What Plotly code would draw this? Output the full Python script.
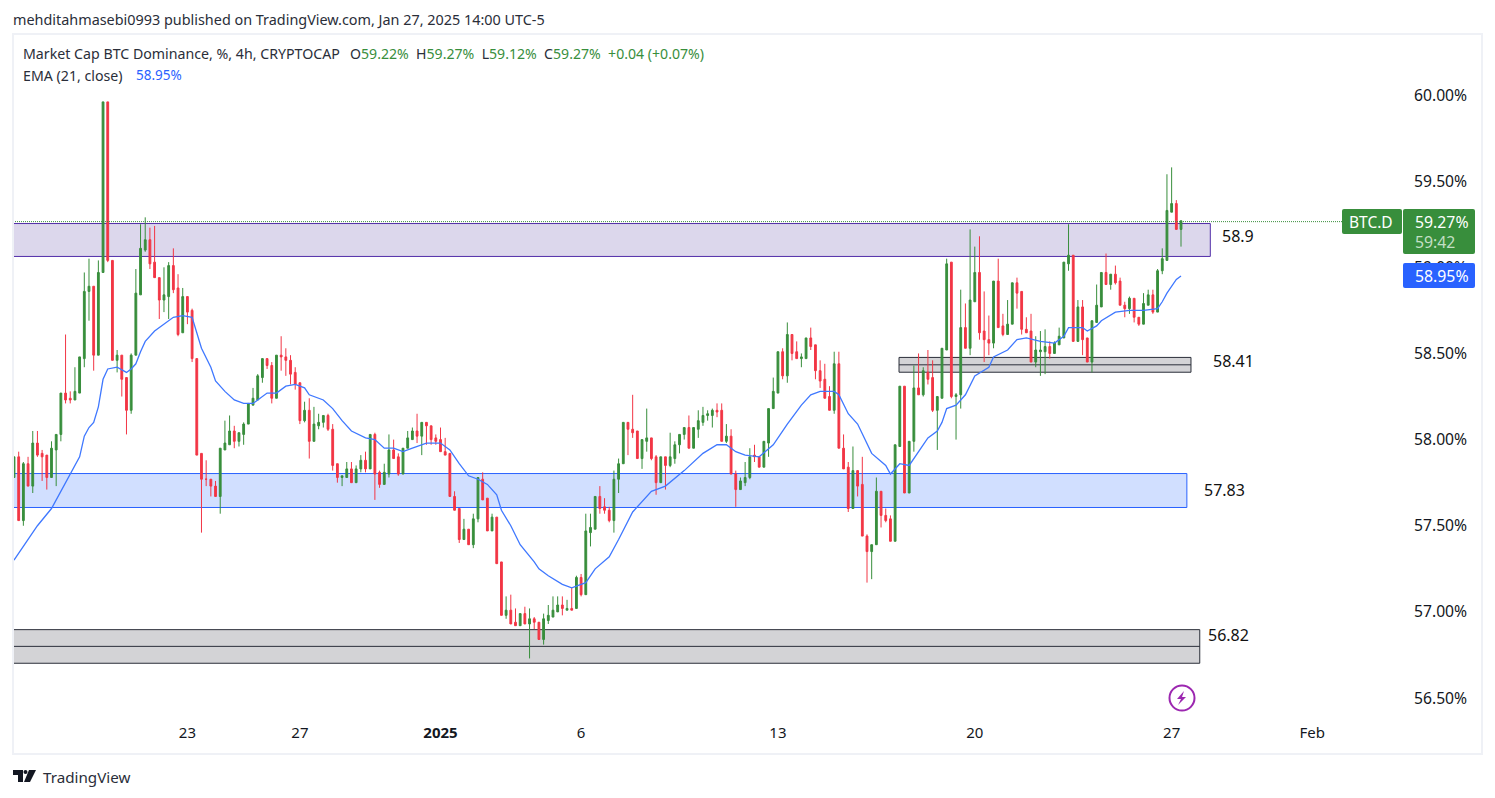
import pandas as pd
import plotly.graph_objects as go

W, H = 1495, 798
PL, PR, PT, PB = 13, 1412, 35, 718   # plot area in page pixels
BAR_PX = 4.687

opens = [57.78,57.90,57.53,57.86,57.73,57.98,57.92,57.91,57.78,57.94,58.03,58.27,58.24,58.23,58.27,58.47,58.86,58.89,58.49,58.97,59.96,59.04,58.46,58.49,58.36,58.17,58.49,58.84,59.10,59.16,59.03,58.94,58.81,58.83,59.01,58.88,58.62,58.83,58.75,58.47,
57.92,57.77,57.77,57.73,57.67,57.94,57.97,58.05,57.99,58.03,58.09,58.20,58.23,58.36,58.47,58.43,58.24,58.49,58.48,58.46,58.39,58.33,58.11,
58.17,57.99,58.08,58.10,58.14,58.06,57.86,57.78,57.78,57.83,57.75,57.83,57.88,57.83,58.03,57.81,57.74,57.80,57.94,57.90,57.80,57.95,58.00,58.05,58.02,58.10,58.08,58.01,58.00,57.93,57.92,57.67,57.60,57.42,57.48,57.39,57.54,57.77,57.66,57.47,57.55,57.29,56.98,57.01,56.94,56.92,56.99,56.93,56.96,56.94,56.84,56.95,56.97,57.00,57.04,57.01,57.02,57.02,57.20,57.10,57.46,57.48,
57.67,57.61,57.59,57.53,57.77,57.86,58.10,58.06,58.05,57.89,57.99,58.01,57.90,57.75,57.90,57.85,57.89,57.97,58.03,58.07,57.95,58.06,58.10,58.14,58.14,58.17,58.17,57.99,58.02,57.80,57.71,57.75,57.78,57.91,57.90,57.84,57.98,58.18,58.27,58.51,58.37,58.61,58.51,58.47,58.47,58.59,58.55,58.40,58.35,58.25,58.17,58.44,57.95,57.84,57.60,57.82,57.74,57.44,57.35,57.39,57.70,57.56,57.54,57.41,57.96,58.31,57.69,
57.99,58.30,58.26,58.39,58.36,58.17,58.24,58.52,59.03,58.25,58.26,58.65,58.53,58.80,58.97,58.63,58.58,58.56,58.92,58.66,58.61,58.67,58.91,58.86,58.64,58.63,58.45,58.51,58.51,58.54,58.50,58.55,58.59,59.02,59.07,58.57,58.77,58.59,58.45,58.68,58.77,58.97,58.90,58.96,58.92,58.78,58.76,58.82,58.71,58.67,58.78,58.84,58.74,58.98,59.04,59.32,59.37,59.22]
highs = [57.90,57.93,57.87,57.90,58.05,58.05,57.94,57.91,57.99,58.03,58.27,58.61,58.28,58.42,58.48,58.97,59.05,58.89,59.04,59.96,59.96,59.04,58.52,58.49,58.36,58.50,58.99,59.25,59.29,59.23,59.24,58.94,59.00,59.03,59.11,58.96,58.88,58.83,58.76,58.47,
57.92,57.88,57.77,57.76,57.95,58.11,58.14,58.08,58.04,58.10,58.21,58.30,58.38,58.47,58.47,58.45,58.49,58.60,58.53,58.49,58.42,58.33,58.22,
58.24,58.19,58.15,58.14,58.15,58.09,57.86,57.79,57.87,57.87,57.85,57.91,57.93,58.03,58.04,57.82,57.86,58.03,58.00,57.92,57.95,58.05,58.07,58.15,58.10,58.10,58.08,58.03,58.07,58.01,57.92,57.70,57.60,57.54,57.48,57.57,57.78,57.81,57.66,57.57,57.55,57.29,57.09,57.10,57.02,56.99,57.03,57.02,56.97,56.94,56.99,57.04,57.09,57.09,57.09,57.07,57.14,57.21,57.22,57.57,57.57,57.67,
57.73,57.66,57.61,57.82,57.89,58.10,58.10,58.26,58.05,58.00,58.18,58.01,57.91,57.90,57.90,58.04,57.99,58.03,58.07,58.14,58.07,58.17,58.19,58.17,58.18,58.21,58.21,58.09,58.06,57.82,57.78,57.87,57.95,57.97,57.90,57.99,58.18,58.36,58.51,58.53,58.68,58.61,58.57,58.50,58.59,58.65,58.55,58.46,58.44,58.31,58.51,58.51,58.03,57.87,57.96,57.82,57.90,57.45,57.39,57.78,57.70,57.60,57.56,57.97,58.31,58.31,57.99,
58.43,58.50,58.42,58.52,58.46,58.25,58.53,59.05,59.03,58.27,58.87,58.79,59.22,59.12,59.18,58.86,58.72,58.92,59.05,58.73,58.81,58.91,58.94,58.86,58.71,58.73,58.60,58.63,58.64,58.57,58.57,58.65,59.03,59.25,59.07,58.81,58.81,58.59,58.69,58.90,58.97,59.08,58.96,59.01,58.94,58.80,58.83,58.82,58.71,58.85,58.87,58.87,58.99,59.11,59.54,59.58,59.39,59.27]
lows = [57.78,57.53,57.50,57.73,57.69,57.90,57.76,57.71,57.78,57.73,57.99,58.21,58.21,58.23,58.27,58.42,58.69,58.40,58.49,58.97,59.03,58.46,58.39,58.25,58.03,58.15,58.49,58.84,59.09,58.99,58.94,58.70,58.74,58.70,58.85,58.60,58.62,58.67,58.45,57.91,
57.46,57.73,57.67,57.67,57.57,57.94,57.97,57.95,57.96,57.97,58.09,58.20,58.23,58.33,58.41,58.21,58.24,58.40,58.37,58.32,58.29,58.09,58.10,
57.89,57.99,58.06,58.07,58.05,57.82,57.75,57.73,57.78,57.75,57.75,57.81,57.81,57.83,57.65,57.72,57.74,57.78,57.89,57.79,57.80,57.95,58.00,57.98,57.91,57.97,57.97,57.97,57.93,57.91,57.67,57.59,57.40,57.42,57.39,57.37,57.52,57.65,57.47,57.47,57.28,56.98,56.96,56.93,56.92,56.92,56.93,56.73,56.90,56.84,56.81,56.93,56.97,57.00,56.98,57.01,57.01,57.02,57.09,57.10,57.38,57.48,
57.57,57.57,57.52,57.46,57.69,57.86,57.91,58.01,57.89,57.83,57.93,57.88,57.68,57.75,57.71,57.84,57.86,57.92,58.00,57.95,57.95,58.01,58.08,58.11,58.07,58.13,57.99,57.98,57.80,57.61,57.71,57.73,57.77,57.87,57.84,57.84,57.90,58.18,58.27,58.35,58.33,58.46,58.47,58.42,58.47,58.52,58.35,58.30,58.24,58.17,58.15,57.95,57.83,57.58,57.60,57.67,57.44,57.17,57.19,57.39,57.49,57.52,57.41,57.41,57.96,57.69,57.69,
57.93,58.26,58.25,58.32,58.16,57.94,58.24,58.52,58.24,58.00,58.18,58.53,58.49,58.80,58.58,58.45,58.49,58.53,58.65,58.60,58.61,58.67,58.76,58.61,58.62,58.45,58.42,58.37,58.38,58.47,58.50,58.55,58.59,58.98,58.57,58.57,58.49,58.45,58.39,58.68,58.77,58.90,58.87,58.90,58.78,58.71,58.73,58.68,58.66,58.67,58.78,58.73,58.74,58.96,59.04,59.32,59.22,59.12]
closes = [57.90,57.53,57.86,57.73,57.98,57.91,57.90,57.78,57.95,58.03,58.27,58.23,58.23,58.28,58.48,58.86,58.89,58.49,58.97,59.96,59.04,58.46,58.49,58.35,58.17,58.49,58.85,59.11,59.16,59.02,58.94,58.81,58.84,59.01,58.87,58.61,58.83,58.74,58.47,57.91,
57.77,57.77,57.73,57.67,57.95,57.98,58.05,57.99,58.04,58.09,58.21,58.24,58.37,58.47,58.43,58.24,58.49,58.48,58.46,58.38,58.32,58.11,58.17,
57.99,58.09,58.10,58.14,58.06,57.85,57.78,57.79,57.83,57.75,57.83,57.88,57.83,58.03,57.80,57.74,57.81,57.94,57.89,57.80,57.95,58.01,58.05,58.02,58.10,58.08,58.00,57.99,57.93,57.91,57.67,57.59,57.42,57.48,57.39,57.54,57.78,57.65,57.47,57.55,57.28,56.98,57.01,56.93,56.92,56.99,56.93,56.96,56.94,56.84,56.96,56.98,57.01,57.04,57.02,57.02,57.01,57.20,57.10,57.47,57.49,57.67,
57.60,57.59,57.53,57.77,57.86,58.10,58.06,58.04,57.89,58.00,58.01,57.89,57.75,57.90,57.85,57.90,57.97,58.03,58.07,57.95,58.07,58.11,58.14,58.15,58.17,58.16,57.99,58.02,57.80,57.71,57.76,57.78,57.90,57.90,57.84,57.99,58.18,58.28,58.51,58.37,58.61,58.50,58.47,58.48,58.59,58.54,58.40,58.34,58.24,58.17,58.44,57.95,57.83,57.60,57.82,57.73,57.44,57.35,57.39,57.70,57.56,57.53,57.41,57.97,58.31,57.69,57.99,
58.30,58.26,58.40,58.35,58.17,58.25,58.53,59.02,58.25,58.26,58.65,58.53,58.81,58.97,58.62,58.58,58.56,58.92,58.65,58.61,58.67,58.91,58.85,58.64,58.62,58.45,58.52,58.52,58.54,58.50,58.56,58.60,59.03,59.07,58.57,58.77,58.58,58.45,58.69,58.78,58.97,58.90,58.96,58.91,58.78,58.76,58.82,58.71,58.67,58.79,58.84,58.74,58.98,59.05,59.33,59.37,59.22,59.27]

ema_bars = [1,4,6,9,12,15,16,17,18,19,20,21,23,25,26,27,28,29,31,33,35,37,39,40,41,43,44,46,48,50,52,53,55,57,59,61,63,64,67,69,71,73,76,78,80,82,84,86,89,92,94,96,98,100,102,104,105,107,109,112,113,115,118,120,123,125,128,130,133,137,140,144,148,151,153,155,157,160,163,166,169,171,173,176,177,179,181,184,187,188,190,192,193,195,196,198,199,200,202,204,206,209,210,213,215,217,220,223,225,226,229,230,232,233,236,239,242,245,246,247,248,249,250]
ema_vals = [57.30,57.42,57.50,57.60,57.75,57.90,58.02,58.07,58.10,58.19,58.35,58.41,58.42,58.39,58.41,58.44,58.51,58.57,58.63,58.67,58.71,58.72,58.71,58.62,58.53,58.42,58.34,58.28,58.23,58.21,58.21,58.23,58.27,58.27,58.31,58.32,58.30,58.26,58.23,58.18,58.11,58.05,58.01,58.00,57.95,57.95,57.93,57.95,57.98,57.98,57.94,57.86,57.79,57.77,57.74,57.68,57.59,57.50,57.39,57.29,57.25,57.21,57.16,57.14,57.17,57.25,57.32,57.42,57.58,57.70,57.73,57.82,57.92,57.97,57.97,57.93,57.91,57.90,57.97,58.09,58.20,58.26,58.28,58.28,58.26,58.15,58.09,57.92,57.85,57.80,57.86,57.85,57.89,57.97,58.01,58.05,58.10,58.18,58.20,58.26,58.37,58.42,58.48,58.52,58.58,58.59,58.57,58.56,58.60,58.65,58.65,58.63,58.66,58.69,58.74,58.75,58.75,58.76,58.80,58.85,58.89,58.93,58.95]

price_ticks = [60.0, 59.5, 59.0, 58.5, 58.0, 57.5, 57.0, 56.5]
date_ticks = ["2024-12-23", "2024-12-27", "2025-01-01", "2025-01-06", "2025-01-13", "2025-01-20", "2025-01-27", "2025-02-01"]
date_labels = ["23", "27", "<b>2025</b>", "6", "13", "20", "27", "Feb"]
first_bar = "2024-12-16 20:00"
last_price_line = 59.265

GREEN, RED, BLUE = "#388e3c", "#f23645", "#2962ff"
INK = "#131722"
FONT = "Noto Sans"

times = pd.date_range(first_bar, periods=len(opens), freq="4h")
bar_ms = 4 * 3600 * 1000

def X(px):
    return (px - PL) / (PR - PL)
def Y(px):
    return 1 - (px - PT) / (PB - PT)
def rrect(x0, y0, x1, y1, r=2):
    return (f"M{X(x0+r)},{Y(y0)} L{X(x1-r)},{Y(y0)} Q{X(x1)},{Y(y0)} {X(x1)},{Y(y0+r)} "
            f"L{X(x1)},{Y(y1-r)} Q{X(x1)},{Y(y1)} {X(x1-r)},{Y(y1)} L{X(x0+r)},{Y(y1)} "
            f"Q{X(x0)},{Y(y1)} {X(x0)},{Y(y1-r)} L{X(x0)},{Y(y0+r)} Q{X(x0)},{Y(y0)} {X(x0+r)},{Y(y0)} Z")
def poly(points):
    return "M" + " L".join(f"{X(a)},{Y(b)}" for a, b in points) + " Z"

fig = go.Figure()
fig.add_trace(go.Candlestick(
    x=times, open=opens, high=highs, low=lows, close=closes,
    increasing=dict(line=dict(color=GREEN, width=1), fillcolor=GREEN),
    decreasing=dict(line=dict(color=RED, width=1), fillcolor=RED),
    whiskerwidth=0, showlegend=False, hoverinfo="skip"))
fig.add_trace(go.Scatter(
    x=[times[b - 1] for b in ema_bars], y=ema_vals, mode="lines",
    line=dict(color="#3f78ff", width=1.3), showlegend=False, hoverinfo="skip"))

# zones: (start, end, upper, lower, middle, fill, edge)
zones = [
    ("2024-12-01", "2025-01-28 09:00", 59.254, 59.063, None, "#dcd7ec", "#512da8"),
    ("2024-12-01", "2025-01-27 13:00", 57.803, 57.606, None, "#d1dfff", BLUE),
    ("2024-12-01", "2025-01-28 00:00", 56.897, 56.702, 56.80, "#d3d3d6", "#2a2e39"),
    ("2025-01-17 07:20", "2025-01-27 16:30", 58.477, 58.391, 58.434, "#d3d3d6", "#2a2e39"),
]
shapes = []
for a, b, up, lo, mid, fill, edge in zones:
    shapes.append(dict(type="rect", xref="x", yref="y", x0=a, x1=b, y0=lo, y1=up,
                       fillcolor=fill, line=dict(color=edge, width=1), layer="below"))
    if mid is not None:
        shapes.append(dict(type="line", xref="x", yref="y", x0=a, x1=b, y0=mid, y1=mid,
                           line=dict(color=edge, width=1), layer="below"))
# last-price line
shapes.append(dict(type="line", xref="paper", yref="y", x0=0, x1=X(1343), y0=last_price_line, y1=last_price_line,
                   line=dict(color=GREEN, width=1, dash="1px,1px"), layer="above"))
# chart frame
shapes.append(dict(type="rect", xref="paper", yref="paper", x0=X(13), x1=X(1482), y0=Y(754), y1=Y(34),
                   line=dict(color="#eff1f6", width=2), layer="above"))
# axis badges
shapes += [
    dict(type="path", xref="paper", yref="paper", path=rrect(1342, 209, 1402, 234), fillcolor=GREEN, line=dict(width=0), layer="above"),
    dict(type="path", xref="paper", yref="paper", path=rrect(1403, 209, 1475, 254), fillcolor=GREEN, line=dict(width=0), layer="above"),
    dict(type="path", xref="paper", yref="paper", path=rrect(1403, 263, 1475, 288), fillcolor=BLUE, line=dict(width=0), layer="above"),
]
# lightning badge
shapes += [
    dict(type="circle", xref="paper", yref="paper", x0=X(1169.5), x1=X(1194.5), y0=Y(710.5), y1=Y(685.5),
         line=dict(color="#9c27b0", width=2), layer="above"),
    dict(type="path", xref="paper", yref="paper", fillcolor="#9c27b0", line=dict(width=0), layer="above",
         path=poly([(1184, 691), (1177, 699), (1181, 699), (1178, 705), (1186, 697), (1182, 697)])),
]
# TradingView mark
shapes += [
    dict(type="path", xref="paper", yref="paper", fillcolor=INK, line=dict(width=0), layer="above",
         path=poly([(13, 770), (23, 770), (23, 782), (18, 782), (18, 775), (13, 775)])),
    dict(type="circle", xref="paper", yref="paper", x0=X(23.5), x1=X(27.5), y0=Y(774), y1=Y(770),
         fillcolor=INK, line=dict(width=0), layer="above"),
    dict(type="path", xref="paper", yref="paper", fillcolor=INK, line=dict(width=0), layer="above",
         path=poly([(29, 770), (36, 770), (30, 782), (24, 782)])),
]

def note(x, y, text, size=14, color=INK, anchor="left"):
    return dict(xref="paper", yref="paper", x=X(x), y=Y(y), text=text, showarrow=False,
                xanchor=anchor, yanchor="middle", align="left", borderpad=0,
                font=dict(family=FONT, size=size, color=color))

def g(t):
    return f'<span style="color:{GREEN}">{t}</span>'

annotations = [
    note(12, 19, "mehditahmasebi0993 published on TradingView.com, Jan 27, 2025 14:00 UTC-5", 14.4, "#2a2e39"),
    note(22, 54, "Market Cap BTC Dominance, %, 4h, CRYPTOCAP", 14.2, "#2a2e39"),
    note(349, 54, "O" + g("59.22%") + "  H" + g("59.27%") + "  L" + g("59.12%") + "  C" + g("59.27%")
         + "  " + g("+0.04 (+0.07%)"), 14.1, "#2a2e39"),
    note(22, 75, "EMA (21, close)", 14.2, "#2a2e39"),
    note(135, 75, "58.95%", 13.5, BLUE),
    note(1221, 236, "58.9", 16, "#111111"),
    note(1212, 361, "58.41", 16, "#111111"),
    note(1203, 490, "57.83", 16, "#111111"),
    note(1207, 635, "56.82", 16, "#111111"),
    note(1348, 222, "BTC.D", 15.5, "#ffffff"),
    note(1414, 222, "59.27%", 15.8, "#ffffff"),
    note(1414, 242, "59:42", 15.8, "#c3dfc5"),
    note(1414, 276, "58.95%", 15.8, "#ffffff"),
    note(42, 777, "TradingView", 15.2, "#2a2e39"),
]

t0 = times[0] - pd.Timedelta(milliseconds=(14 - PL) / BAR_PX * bar_ms)
t1 = times[-1] + pd.Timedelta(milliseconds=(PR - 1181) / BAR_PX * bar_ms)
PX_PER_PCT = 172.3
ytop = 60 + (95 - PT) / PX_PER_PCT
ybot = 60 - (PB - 95) / PX_PER_PCT

fig.update_layout(
    width=W, height=H, autosize=False,
    margin=dict(l=PL, r=W - PR, t=PT, b=H - PB, pad=0),
    paper_bgcolor="#ffffff", plot_bgcolor="#ffffff", showlegend=False,
    hovermode=False, dragmode=False, boxgap=0.45,
    shapes=shapes, annotations=annotations,
    xaxis=dict(type="date", range=[t0, t1], rangeslider=dict(visible=False), showgrid=False, zeroline=False,
               showline=False, ticks="", tickmode="array", tickvals=date_ticks, ticktext=date_labels,
               ticklabelstandoff=4, tickfont=dict(family=FONT, size=15, color=INK)),
    yaxis=dict(range=[ybot, ytop], side="right", showgrid=False, zeroline=False, showline=False, ticks="",
               tickmode="array", tickvals=price_ticks, ticktext=[f"{p:.2f}%" for p in price_ticks],
               ticklabelstandoff=1, tickfont=dict(family=FONT, size=15.7, color=INK)),
)
fig.write_html("out.html", config=dict(displayModeBar=False, staticPlot=True),
               post_script="document.body.style.margin='0';document.body.style.overflow='hidden';")
